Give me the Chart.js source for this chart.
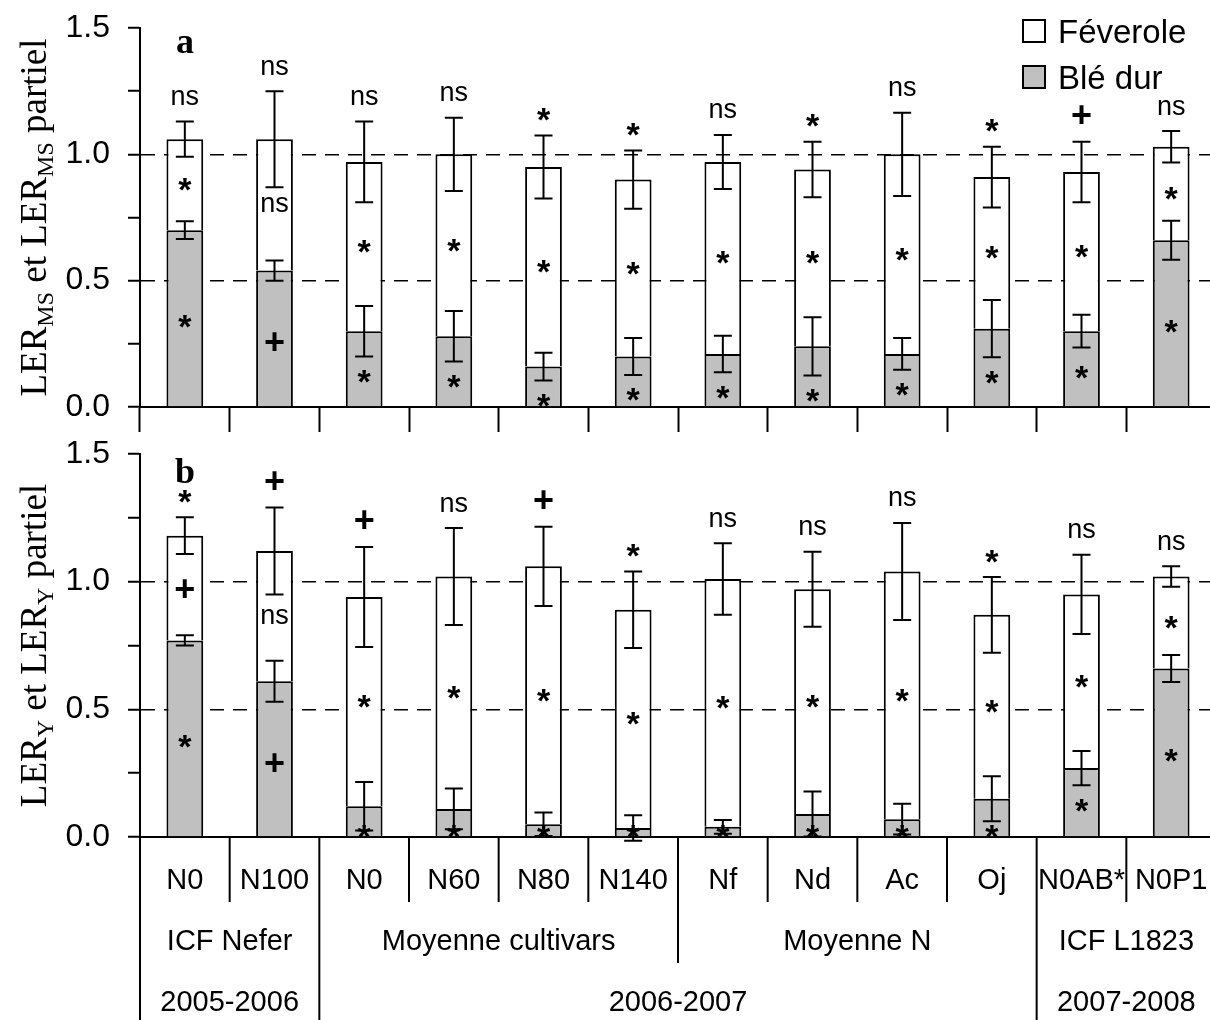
<!DOCTYPE html>
<html>
<head>
<meta charset="utf-8">
<script src="https://cdn.jsdelivr.net/npm/chart.js@4/dist/chart.umd.min.js"></script>
<style>
    html, body { margin: 0; padding: 0; background: #fff; overflow: hidden; }
    canvas { position: absolute; left: 0; }
    #chartA { top: 0; }
    #chartB { top: 436px; }
</style>
</head>
<body>
<canvas id="chartA" width="1230" height="436"></canvas>
<canvas id="chartB" width="1230" height="584"></canvas>
<script>
// categories (3 label rows under panel b)
const treatments = ['N0', 'N100', 'N0', 'N60', 'N80', 'N140', 'Nf', 'Nd', 'Ac', 'Oj', 'N0AB*', 'N0P1'];
const groupLabels = ['ICF Nefer', 'Moyenne cultivars', 'Moyenne N', 'ICF L1823'];
const groupSizes = [2, 4, 4, 2];
const yearLabels = ['2005-2006', '2006-2007', '2007-2008'];
const yearSizes = [2, 8, 2];
const yTickValues = [0, 0.5, 1, 1.5];
const yTickLabels = ['0.0', '0.5', '1.0', '1.5'];

// panel a : LER MS
const bleA = [0.70, 0.54, 0.30, 0.28, 0.16, 0.20, 0.21, 0.24, 0.21, 0.31, 0.30, 0.66];
const fevA = [0.36, 0.52, 0.67, 0.72, 0.79, 0.70, 0.76, 0.70, 0.79, 0.60, 0.63, 0.37];
const errBleA = [0.035, 0.04, 0.10, 0.10, 0.055, 0.073, 0.072, 0.115, 0.063, 0.113, 0.065, 0.077];
const errTotA = [0.07, 0.19, 0.16, 0.145, 0.125, 0.115, 0.107, 0.11, 0.165, 0.12, 0.12, 0.062];
const sigTotA = ['ns', 'ns', 'ns', 'ns', '*', '*', 'ns', '*', 'ns', '*', '+', 'ns'];
const sigFevA = ['*', 'ns', '*', '*', '*', '*', '*', '*', '*', '*', '*', '*'];
const sigBleA = ['*', '+', '*', '*', '*', '*', '*', '*', '*', '*', '*', '*'];

// panel b : LER Y
const bleB = [0.77, 0.61, 0.12, 0.11, 0.05, 0.035, 0.04, 0.09, 0.07, 0.15, 0.27, 0.66];
const fevB = [0.41, 0.51, 0.82, 0.91, 1.01, 0.855, 0.97, 0.88, 0.97, 0.72, 0.68, 0.36];
const errBleB = [0.02, 0.08, 0.095, 0.08, 0.046, 0.05, 0.027, 0.088, 0.06, 0.088, 0.067, 0.053];
const errTotB = [0.072, 0.17, 0.196, 0.19, 0.155, 0.15, 0.14, 0.147, 0.19, 0.148, 0.155, 0.04];
const sigTotB = ['*', '+', '+', 'ns', '+', '*', 'ns', 'ns', 'ns', '*', 'ns', 'ns'];
const sigFevB = ['+', 'ns', '*', '*', '*', '*', '*', '*', '*', '*', '*', '*'];
const sigBleB = ['*', '+', '*', '*', '*', '*', '*', '*', '*', '*', '*', '*'];

const SANS = '"Liberation Sans", Arial, sans-serif';
const SERIF = '"Liberation Serif", "Times New Roman", serif';
const GREY = '#c0c0c0';

// centre the ink of a string on (x, cy)
function inkText(ctx, text, x, cy, font, align) {
    ctx.font = font;
    ctx.textAlign = align || 'center';
    ctx.textBaseline = 'alphabetic';
    const m = ctx.measureText(text);
    ctx.fillText(text, x, cy + (m.actualBoundingBoxAscent - m.actualBoundingBoxDescent) / 2);
}

function errorBar(ctx, cx, y, v, e) {
    const top = y.getPixelForValue(v + e), bot = y.getPixelForValue(v - e);
    ctx.beginPath();
    ctx.moveTo(cx, top); ctx.lineTo(cx, bot);
    ctx.moveTo(cx - 9, top); ctx.lineTo(cx + 9, top);
    ctx.moveTo(cx - 9, bot); ctx.lineTo(cx + 9, bot);
    ctx.stroke();
}

function sigFont(s) {
    if (s === '+') return 'bold 36px ' + SANS;
    if (s === '*') return 'bold 34px ' + SANS;
    return '27px ' + SANS;
}
// gap between the error bar cap and the mark above it
const topGap = { '+': 27, '*': 21, 'ns': 24 };

function drawYTitle(ctx, cy, sub) {
    const big = '37px ' + SERIF, small = '24px ' + SERIF;
    const parts = [['LER', big, 0], [sub, small, 7], [' et LER', big, 0], [sub, small, 7], [' partiel', big, 0]];
    ctx.save();
    ctx.translate(46, cy);
    ctx.rotate(-Math.PI / 2);
    let total = 0;
    parts.forEach(([t, f]) => { ctx.font = f; total += ctx.measureText(t).width; });
    let xx = -total / 2;
    ctx.textAlign = 'left';
    ctx.textBaseline = 'alphabetic';
    parts.forEach(([t, f, dy]) => {
        ctx.font = f;
        ctx.fillText(t, xx, dy);
        xx += ctx.measureText(t).width;
    });
    ctx.restore();
}

function panelPlugin(p) {
    return {
        id: 'panel' + p.letter,
        afterDatasetsDraw(chart) {
            const { ctx, scales: { x, y } } = chart;
            ctx.save();
            ctx.strokeStyle = '#000';
            ctx.lineWidth = 2;
            p.ble.forEach((b, i) => {
                const cx = x.getPixelForValue(i);
                errorBar(ctx, cx, y, b, p.errBle[i]);
                errorBar(ctx, cx, y, b + p.fev[i], p.errTot[i]);
            });
            ctx.restore();
        },
        afterDraw(chart) {
            const { ctx, chartArea, scales: { x, y } } = chart;
            ctx.save();
            ctx.fillStyle = '#000';
            const zero = y.getPixelForValue(0);

            // significance marks
            p.ble.forEach((b, i) => {
                const cx = x.getPixelForValue(i);
                const tot = b + p.fev[i];
                const topY = y.getPixelForValue(tot + p.errTot[i]) - topGap[p.sigTot[i]];
                inkText(ctx, p.sigTot[i], cx, topY, sigFont(p.sigTot[i]));
                const fevY = y.getPixelForValue((b + tot) / 2);
                inkText(ctx, p.sigFev[i], cx, fevY, sigFont(p.sigFev[i]));
                let bleY = Math.max(y.getPixelForValue(b / 2) + 3, y.getPixelForValue(b - p.errBle[i]) + 20);
                bleY = Math.min(bleY, zero - 6);
                inkText(ctx, p.sigBle[i], cx, bleY, sigFont(p.sigBle[i]));
            });

            // panel letter and axis title
            inkText(ctx, p.letter, 185, chartArea.top + 16, 'bold 36px ' + SERIF);
            drawYTitle(ctx, (chartArea.top + chartArea.bottom) / 2, p.sub);

            // legend
            if (p.legend) {
                const items = [chart.data.datasets[1], chart.data.datasets[0]];
                items.forEach((ds, k) => {
                    const cy = 31 + k * 46;
                    ctx.fillStyle = ds.backgroundColor;
                    ctx.fillRect(1023, cy - 11, 22, 22);
                    ctx.strokeStyle = '#000';
                    ctx.lineWidth = 2;
                    ctx.strokeRect(1023, cy - 11, 22, 22);
                    ctx.fillStyle = '#000';
                    ctx.font = '33px ' + SANS;
                    const hm = ctx.measureText('H');
                    ctx.textAlign = 'left';
                    ctx.textBaseline = 'alphabetic';
                    ctx.fillText(ds.label, 1058, cy + hm.actualBoundingBoxAscent / 2);
                });
            }

            // multi-level category labels
            if (p.categories) {
                const bottom = chartArea.bottom;
                const step = x.getPixelForValue(1) - x.getPixelForValue(0);
                const edge = k => x.getPixelForValue(0) + (k - 0.5) * step;
                const font = '29px ' + SANS;
                ctx.font = font;
                const capH = ctx.measureText('H').actualBoundingBoxAscent;
                const row = (text, xc, cy) => {
                    ctx.font = font;
                    ctx.textAlign = 'center';
                    ctx.textBaseline = 'alphabetic';
                    ctx.fillText(text, xc, cy + capH / 2);
                };
                treatments.forEach((t, i) => row(t, x.getPixelForValue(i), bottom + 42));
                const yearEdges = [0], groupEdges = [0];
                yearSizes.forEach(s => yearEdges.push(yearEdges[yearEdges.length - 1] + s));
                groupSizes.forEach(s => groupEdges.push(groupEdges[groupEdges.length - 1] + s));
                groupLabels.forEach((g, k) => row(g, (edge(groupEdges[k]) + edge(groupEdges[k + 1])) / 2, bottom + 103));
                yearLabels.forEach((g, k) => row(g, (edge(yearEdges[k]) + edge(yearEdges[k + 1])) / 2, bottom + 164));
                ctx.strokeStyle = '#000';
                ctx.lineWidth = 2;
                for (let k = 0; k <= treatments.length; k++) {
                    let end = bottom + 65;
                    if (yearEdges.includes(k)) end = chart.height;
                    else if (groupEdges.includes(k)) end = bottom + 126;
                    ctx.beginPath();
                    ctx.moveTo(edge(k), bottom);
                    ctx.lineTo(edge(k), end);
                    ctx.stroke();
                }
            }
            ctx.restore();
        }
    };
}

function makePanel(id, p) {
    return new Chart(document.getElementById(id), {
        type: 'bar',
        data: {
            labels: treatments,
            datasets: [
                { label: 'Blé dur', data: p.ble, backgroundColor: GREY, borderColor: '#000', borderWidth: 2, borderSkipped: 'start', barPercentage: 0.41, categoryPercentage: 1 },
                { label: 'Féverole', data: p.fev, backgroundColor: '#fff', borderColor: '#000', borderWidth: 2, borderSkipped: 'start', barPercentage: 0.41, categoryPercentage: 1 }
            ]
        },
        options: {
            responsive: false,
            animation: false,
            events: [],
            layout: { padding: { top: p.padTop, right: 14, left: 0, bottom: 0 } },
            plugins: { legend: { display: false }, tooltip: { enabled: false } },
            scales: {
                x: {
                    stacked: true,
                    z: 1,
                    afterFit: s => { s.height = p.xHeight; },
                    ticks: { display: false },
                    grid: { offset: true, drawOnChartArea: false, drawTicks: p.xTicks, tickLength: 25, tickColor: '#000', tickWidth: 2 },
                    border: { color: '#000', width: 2 }
                },
                y: {
                    stacked: true,
                    min: 0,
                    max: 1.5,
                    z: 1,
                    afterFit: s => {
                        s.width = 140;
                        s.paddingTop = 0;
                        s.paddingBottom = 0;
                    },
                    ticks: {
                        stepSize: 0.25,
                        autoSkip: false,
                        color: '#000',
                        padding: 18,
                        font: { family: SANS, size: 32 },
                        callback: v => {
                            const k = yTickValues.indexOf(v);
                            return k >= 0 ? yTickLabels[k] : '';
                        }
                    },
                    grid: {
                        color: c => (c.tick && (c.tick.value === 0.5 || c.tick.value === 1)) ? '#000' : 'rgba(0,0,0,0)',
                        lineWidth: 1.5,
                        tickColor: '#000',
                        tickLength: 12,
                        tickWidth: 2
                    },
                    border: { color: '#000', width: 2, dash: [14, 9] }
                }
            }
        },
        plugins: [panelPlugin(p)]
    });
}

makePanel('chartA', {
    letter: 'a', sub: 'MS', legend: true, categories: false, xTicks: true, padTop: 28, xHeight: 29,
    ble: bleA, fev: fevA, errBle: errBleA, errTot: errTotA, sigTot: sigTotA, sigFev: sigFevA, sigBle: sigBleA
});
makePanel('chartB', {
    letter: 'b', sub: 'Y', legend: false, categories: true, xTicks: false, padTop: 18, xHeight: 183,
    ble: bleB, fev: fevB, errBle: errBleB, errTot: errTotB, sigTot: sigTotB, sigFev: sigFevB, sigBle: sigBleB
});
</script>
</body>
</html>
